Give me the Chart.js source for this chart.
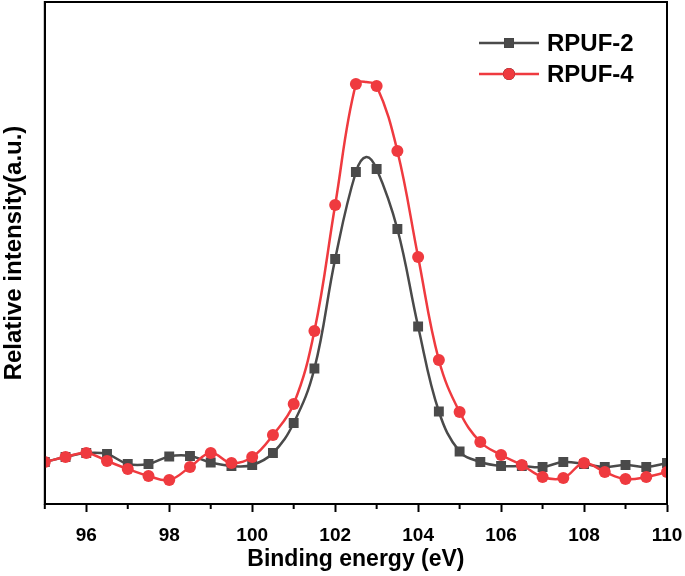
<!DOCTYPE html>
<html>
<head>
<meta charset="utf-8">
<script src="https://cdn.jsdelivr.net/npm/chart.js@4.4.0/dist/chart.umd.min.js"></script>
<style>
    html, body { margin: 0; padding: 0; background: #fff; overflow: hidden; }
    canvas { display: block; }
</style>
</head>
<body>
<canvas id="xpsChart" width="685" height="576"></canvas>
<script>
// binding energy (eV), markers every 0.5 eV, 102.75 is a line-only point at the RPUF-2 peak
var energy = [95, 95.5, 96, 96.5, 97, 97.5, 98, 98.5, 99, 99.5, 100, 100.5, 101, 101.5, 102, 102.5, 102.75,
    103, 103.5, 104, 104.5, 105, 105.5, 106, 106.5, 107, 107.5, 108, 108.5, 109, 109.5, 110];
var rpuf2 = [42, 47, 51, 50, 40, 40, 47.5, 48, 41.5, 38, 39, 51, 81, 135.5, 245, 332, 347,
    335, 275, 177.5, 92.5, 52.5, 42, 38, 38, 37, 42, 40, 37, 39, 37, 41];
var rpuf4 = [42, 47, 51, 43, 35, 28, 24, 37, 51, 41, 47, 69, 100, 173, 299, 420, 422,
    418, 353, 247, 144, 92, 62, 49, 39, 27, 26, 41, 32, 25, 27, 32];
var xTicks = [96, 98, 100, 102, 104, 106, 108, 110];

var grayColor = '#4a4a4a';
var redColor = '#ef3a3f';
var fontFamily = '"Liberation Sans", Arial, sans-serif';

function toPoints(values) {
    return energy.map(function (e, i) { return { x: e, y: values[i] }; });
}

// only every 0.5 eV step carries a marker
function markerRadius(size) {
    return function (ctx) {
        var p = ctx.raw;
        if (!p) return size;
        return (p.x * 2) % 1 === 0 ? size : 0;
    };
}

var framePlugin = {
    id: 'frame',
    afterDatasetsDraw: function (chart) {
        var ctx = chart.ctx;
        var a = chart.chartArea;
        var xs = chart.scales.x;
        ctx.save();
        ctx.strokeStyle = '#000';
        ctx.lineWidth = 2;
        ctx.strokeRect(a.left, a.top, a.right - a.left, a.bottom - a.top);
        // minor ticks at odd values
        for (var v = 95; v < 110; v += 2) {
            var px = xs.getPixelForValue(v);
            ctx.beginPath();
            ctx.moveTo(px, a.bottom);
            ctx.lineTo(px, a.bottom + 5);
            ctx.stroke();
        }
        // legend: line + marker + label
        var items = [
            { label: 'RPUF-2', color: grayColor, style: 'rect', r: 7 },
            { label: 'RPUF-4', color: redColor, style: 'circle', r: 6 }
        ];
        items.forEach(function (it, i) {
            var y = 43 + i * 31;
            ctx.strokeStyle = it.color;
            ctx.lineWidth = 2.5;
            ctx.beginPath();
            ctx.moveTo(479, y);
            ctx.lineTo(539, y);
            ctx.stroke();
            Chart.helpers.drawPoint(ctx, { pointStyle: it.style, radius: it.r, borderWidth: 0 }, 509, y);
            ctx.fillStyle = it.color;
            ctx.fill();
            ctx.fillStyle = '#000';
            ctx.font = 'bold 24px ' + fontFamily;
            ctx.textBaseline = 'middle';
            ctx.fillText(it.label, 547, y + 1);
        });
        ctx.restore();
    }
};

var xpsChart = new Chart(document.getElementById('xpsChart').getContext('2d'), {
    type: 'line',
    data: {
        datasets: [
            {
                label: 'RPUF-4',
                data: toPoints(rpuf4),
                borderColor: redColor,
                backgroundColor: redColor,
                borderWidth: 2.5,
                tension: 0.4,
                pointStyle: 'circle',
                pointRadius: markerRadius(6),
                pointBorderWidth: 0,
                pointHoverRadius: 0
            },
            {
                label: 'RPUF-2',
                data: toPoints(rpuf2),
                borderColor: grayColor,
                backgroundColor: grayColor,
                borderWidth: 2.5,
                tension: 0.4,
                pointStyle: 'rect',
                pointRadius: markerRadius(7),
                pointBorderWidth: 0,
                pointHoverRadius: 0
            }
        ]
    },
    options: {
        responsive: false,
        animation: false,
        layout: { autoPadding: false, padding: { top: 2, right: 0, left: 0, bottom: 3 } },
        plugins: {
            legend: { display: false },
            tooltip: { enabled: false }
        },
        scales: {
            x: {
                type: 'linear',
                min: 95,
                max: 110,
                afterBuildTicks: function (scale) {
                    scale.ticks = xTicks.map(function (v) { return { value: v }; });
                },
                afterFit: function (scale) {
                    scale.height = 69;
                    scale.paddingRight = 18;
                },
                ticks: {
                    color: '#000',
                    font: { family: fontFamily, size: 19, weight: 'bold' },
                    padding: 12,
                    maxRotation: 0
                },
                grid: {
                    display: true,
                    drawOnChartArea: false,
                    tickLength: 8,
                    tickColor: '#000',
                    tickWidth: 2
                },
                border: { color: '#000', width: 2 },
                title: {
                    display: true,
                    text: 'Binding energy (eV)',
                    color: '#000',
                    font: { family: fontFamily, size: 23, weight: 'bold' },
                    padding: { top: 0, bottom: 0 }
                }
            },
            y: {
                min: 0,
                max: 502,
                ticks: { display: false },
                grid: { display: false },
                border: { color: '#000', width: 2 },
                title: {
                    display: true,
                    text: 'Relative intensity(a.u.)',
                    color: '#000',
                    font: { family: fontFamily, size: 24, weight: 'bold' },
                    padding: { top: 0, bottom: 8 }
                }
            }
        }
    },
    plugins: [framePlugin]
});
</script>
</body>
</html>
